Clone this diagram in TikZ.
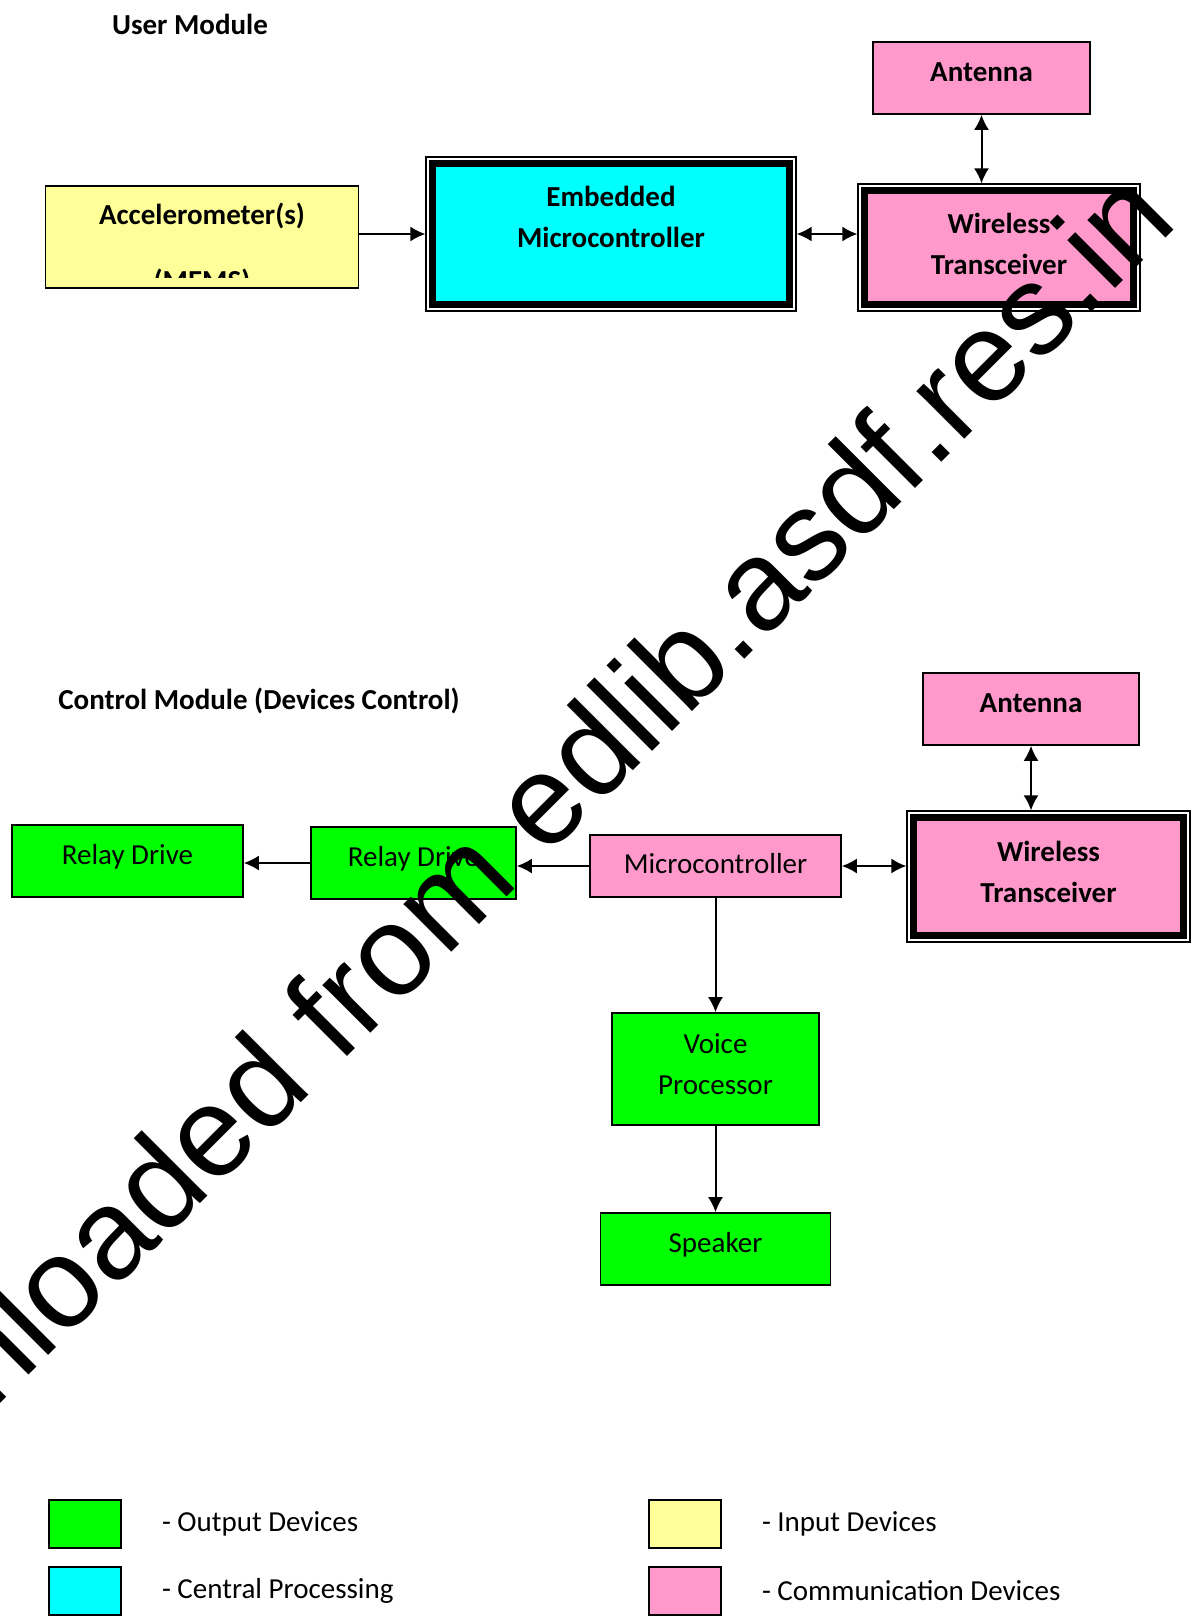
\documentclass[tikz,border=0pt]{standalone}
\usepackage{fontspec}
\setmainfont{Carlito}
\newfontfamily\wmfont{Liberation Sans}
\usetikzlibrary{arrows.meta,positioning}

\definecolor{inyellow}{HTML}{FFFF99}
\definecolor{cpucyan}{HTML}{00FFFF}
\definecolor{compink}{HTML}{FF99CC}
\definecolor{outgreen}{HTML}{00FF00}

\newcommand{\boxfont}{\fontsize{29}{35}\selectfont}

\begin{document}
\begin{tikzpicture}[x=1pt, y=-1pt, >={Latex[length=15pt,width=15pt]}]
        \tikzstyle{block} = [draw, rectangle, line width=1.6pt, inner sep=0pt, text height=19pt, text depth=13pt, font=\boxfont]
        \tikzstyle{twoline} = [draw, rectangle, line width=1.6pt, align=center, font=\fontsize{29}{41}\selectfont]
        \tikzstyle{dblframe} = [draw, rectangle, line width=7pt, outer sep=7.1pt, align=center, font=\fontsize{29}{41}\selectfont\bfseries, preaction={draw, line width=14.2pt}, preaction={draw=white, line width=11.8pt}]
        \tikzstyle{legbox} = [draw, line width=1.6pt, minimum width=72pt, minimum height=48pt]
        \tikzstyle{legtext} = [inner sep=0pt, font=\boxfont]
        \tikzstyle{link} = [->, line width=2pt]

        \useasboundingbox (0,0) rectangle (1196,1618);
        \clip (0,0) rectangle (1196,1618);

        % user module
        \node [font=\boxfont\bfseries] (usermod) at (190,24) {User Module};
        \node [block, fill=inyellow, minimum width=313pt, minimum height=102pt] (accel) at (202,237) {};
        \begin{scope}
            \clip (accel.north west) rectangle ([yshift=11pt]accel.south east);
            \node [anchor=base, font=\boxfont\bfseries] (acceltop) at ([yshift=-39.5pt]accel.north) {Accelerometer(s)};
            \node [anchor=base, font=\boxfont\bfseries] (accelbot) at ([yshift=-105pt]accel.north) {(MEMS)};
        \end{scope}
        \node [dblframe, fill=cpucyan, minimum width=357pt, minimum height=141pt, right of=accel, node distance=409pt, yshift=3pt] (emb) {Embedded\\Microcontroller\\[-6pt]\mbox{}};
        \node [dblframe, fill=compink, minimum width=269pt, minimum height=114pt, right of=emb, node distance=388pt, yshift=-13.5pt] (transA) {Wireless\\Transceiver\\[-33pt]\mbox{}};
        \node [block, fill=compink, font=\boxfont\bfseries, minimum width=217pt, minimum height=72pt, above of=transA, node distance=169.5pt, xshift=-17.5pt] (antA) {Antenna};

        \draw [link] (accel.east |- emb.west) -- (emb.west);
        \draw [link, <->] (emb.east) -- (emb.east -| transA.west);
        \draw [link, <->] (antA.south) -- (antA.south |- transA.north);

        % control module
        \node [font=\boxfont\bfseries] (ctrlmod) at (259,701) {Control Module (Devices Control)};
        \node [block, fill=compink, text height=24pt, text depth=10pt, minimum width=251pt, minimum height=62pt] (micro) at (715.5,866) {Microcontroller};
        \node [block, fill=outgreen, minimum width=205pt, minimum height=72pt, left of=micro, node distance=302pt, yshift=3pt] (relayB) {Relay Drive};
        \node [block, fill=outgreen, minimum width=231pt, minimum height=72pt, left of=relayB, node distance=286pt, yshift=2pt] (relayA) {Relay Drive};
        \node [twoline, fill=outgreen, minimum width=207pt, minimum height=112pt, below of=micro, node distance=203pt] (voice) {Voice\\Processor\\[-31pt]\mbox{}};
        \node [block, fill=outgreen, minimum width=230pt, minimum height=72pt, below of=voice, node distance=180pt] (speaker) {Speaker};
        \node [dblframe, fill=compink, minimum width=270pt, minimum height=118pt, right of=micro, node distance=333pt, yshift=-10.5pt] (transB) {Wireless\\Transceiver\\[-31pt]\mbox{}};
        \node [block, fill=compink, font=\boxfont\bfseries, minimum width=216pt, minimum height=72pt, above of=transB, node distance=167.5pt, xshift=-17.5pt] (antB) {Antenna};

        \draw [link, <->] (micro.east) -- (micro.east -| transB.west);
        \draw [link] (micro.west) -- (micro.west -| relayB.east);
        \draw [link] (relayB.west) -- (relayB.west -| relayA.east);
        \draw [link] (micro.south) -- (micro.south |- voice.north);
        \draw [link] (voice.south) -- (speaker.north);
        \draw [link, <->] (antB.south) -- (antB.south |- transB.north);

        % legend
        \node [legbox, fill=outgreen] (legout) at (85,1524) {};
        \node [legtext, right=40pt of legout] (legouttext) {- Output Devices};
        \node [legbox, fill=cpucyan, below of=legout, node distance=67pt] (legcpu) {};
        \node [legtext, right=40pt of legcpu] (legcputext) {- Central Processing};
        \node [legbox, fill=inyellow, right of=legout, node distance=600pt] (legin) {};
        \node [legtext, right=40pt of legin] (legintext) {- Input Devices};
        \node [legbox, fill=compink, below of=legin, node distance=67pt] (legcom) {};
        \node [legtext, right=40pt of legcom] (legcomtext) {- Communication Devices};

        % watermark
        \node [rotate=45, anchor=base east, inner sep=0pt, font=\wmfont\fontsize{128}{128}\selectfont] (wmark) at (1180,224) {Downloaded from edlib.asdf.res.in};
\end{tikzpicture}
\end{document}
